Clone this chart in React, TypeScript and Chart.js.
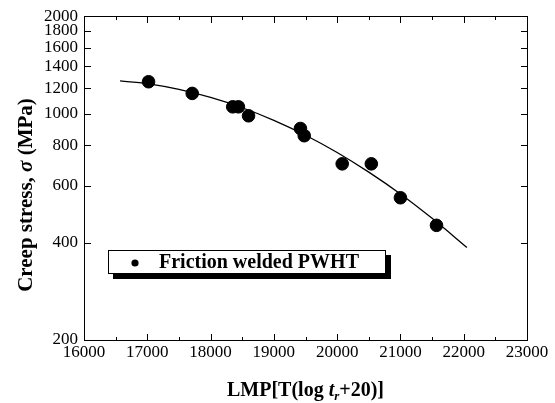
import React, { useEffect, useRef } from "react";
import { Chart, registerables } from "chart.js";

Chart.register(...registerables);

// Measured creep data (Friction welded PWHT)
const lmpValues = [17020, 17710, 18350, 18440, 18600, 19420, 19480, 20080, 20540, 21000, 21570];
const stressValues = [1255, 1155, 1050, 1050, 985, 900, 855, 700, 700, 550, 452];

// Fitted curve
const fitLmp = [16570, 17000, 17500, 18000, 18500, 19000, 19500, 20000, 20500, 21000, 21500, 22050];
const fitStress = [1262, 1238, 1188, 1122, 1043, 954, 858, 759, 660, 565, 475, 386];

const xTicks = [16000, 17000, 18000, 19000, 20000, 21000, 22000, 23000];
const xMinorTicks = [16500, 17500, 18500, 19500, 20500, 21500, 22500];
const yTicks = [200, 400, 600, 800, 1000, 1200, 1400, 1600, 1800, 2000];

const legendLabel = "Friction welded PWHT";
const serif = "'Liberation Serif', 'Times New Roman', serif";

const framePlugin = {
  id: "frame",
  afterDatasetsDraw(chart: any) {
    const ctx = chart.ctx;
    const area = chart.chartArea;
    const xs = chart.scales.x;
    const ys = chart.scales.y;
    const L = Math.round(area.left);
    const R = Math.round(area.right);
    const T = Math.round(area.top);
    const B = Math.round(area.bottom);
    ctx.save();
    ctx.fillStyle = "#000000";
    ctx.fillRect(L, T, R - L + 1, 1);
    ctx.fillRect(L, B, R - L + 1, 1);
    ctx.fillRect(L, T, 1, B - T + 1);
    ctx.fillRect(R, T, 1, B - T + 1);
    for (const v of xTicks) {
      const px = Math.round(xs.getPixelForValue(v));
      ctx.fillRect(px, B - 6, 1, 6);
      ctx.fillRect(px, T + 1, 1, 6);
    }
    for (const v of xMinorTicks) {
      const px = Math.round(xs.getPixelForValue(v));
      ctx.fillRect(px, B - 3, 1, 3);
      ctx.fillRect(px, T + 1, 1, 3);
    }
    for (const v of yTicks) {
      const py = Math.round(ys.getPixelForValue(v));
      ctx.fillRect(L + 1, py, 6, 1);
      ctx.fillRect(R - 6, py, 6, 1);
    }
    ctx.restore();
  },
};

const decorPlugin = {
  id: "decor",
  afterDraw(chart: any) {
    const ctx = chart.ctx;
    const area = chart.chartArea;
    ctx.save();
    // Legend box with shadow
    const bx = 108, by = 250, bw = 278, bh = 24;
    ctx.fillStyle = "#000";
    ctx.fillRect(bx + 5, by + 5, bw, bh);
    ctx.fillStyle = "#fff";
    ctx.fillRect(bx, by, bw, bh);
    ctx.fillStyle = "#000";
    ctx.fillRect(bx, by, bw, 1);
    ctx.fillRect(bx, by + bh - 1, bw, 1);
    ctx.fillRect(bx, by, 1, bh);
    ctx.fillRect(bx + bw - 1, by, 1, bh);
    ctx.beginPath();
    ctx.arc(135, by + 13, 3.6, 0, Math.PI * 2);
    ctx.fill();
    ctx.font = `bold 20px ${serif}`;
    ctx.textBaseline = "middle";
    ctx.textAlign = "left";
    ctx.fillText(legendLabel, 159, by + 13);

    const drawRuns = (runs: any[], cx: number, cy: number, rot: number, base: number) => {
      ctx.save();
      ctx.translate(cx, cy);
      ctx.rotate(rot);
      ctx.textBaseline = "alphabetic";
      ctx.textAlign = "left";
      let total = 0;
      runs.forEach((r) => { ctx.font = r.font; total += ctx.measureText(r.text).width; });
      let x = -total / 2;
      runs.forEach((r) => {
        ctx.font = r.font;
        ctx.fillText(r.text, x, base + (r.dy || 0));
        x += ctx.measureText(r.text).width;
      });
      ctx.restore();
    };
    const xc = (area.left + area.right) / 2;
    drawRuns([
      { text: "LMP[T(log ", font: `bold 20px ${serif}` },
      { text: "t", font: `italic bold 20px ${serif}` },
      { text: "r", font: `italic bold 13px ${serif}`, dy: 4 },
      { text: "+20)]", font: `bold 20px ${serif}` },
    ], xc, 389, 0, 7);
    drawRuns([
      { text: "Creep stress, ", font: `bold 21px ${serif}` },
      { text: "σ", font: `italic bold 21px ${serif}` },
      { text: " (MPa)", font: `bold 21px ${serif}` },
    ], 24, 195, -Math.PI / 2, 7.5);
    ctx.restore();
  },
};

export default function App() {
  const ref = useRef<HTMLCanvasElement | null>(null);
  useEffect(() => {
    document.body.style.margin = "0";
    const canvas = ref.current;
    if (!canvas) return;
    const chart = new Chart(canvas, {
      type: "scatter",
      data: {
        datasets: [
          {
            label: "fit",
            data: fitLmp.map((x, i) => ({ x, y: fitStress[i] })),
            showLine: true,
            borderColor: "#000",
            borderWidth: 1.3,
            pointRadius: 0,
            tension: 0.4,
            fill: false,
          },
          {
            label: legendLabel,
            data: lmpValues.map((x, i) => ({ x, y: stressValues[i] })),
            backgroundColor: "#000",
            borderColor: "#000",
            pointRadius: 6.3,
            pointHoverRadius: 6.3,
            showLine: false,
          },
        ],
      },
      options: {
        responsive: false,
        animation: false,
        layout: { padding: { left: 0, right: 28, top: 15, bottom: 0 } },
        plugins: { legend: { display: false }, tooltip: { enabled: false } },
        scales: {
          x: {
            type: "linear",
            min: 16000,
            max: 23000,
            grid: { display: false, drawTicks: false },
            border: { display: false },
            afterBuildTicks: (s: any) => { s.ticks = xTicks.map((v) => ({ value: v })); },
            afterFit: (s: any) => { s.height = 63; },
            ticks: {
              color: "#000",
              font: { family: serif, size: 17 },
              padding: 2,
              maxRotation: 0,
              autoSkip: false,
              callback: (v: any) => String(v),
            },
          },
          y: {
            type: "logarithmic",
            min: 200,
            max: 2000,
            grid: { display: false, drawTicks: false },
            border: { display: false },
            afterBuildTicks: (s: any) => { s.ticks = yTicks.map((v) => ({ value: v })); },
            afterFit: (s: any) => { s.width = 84; },
            ticks: {
              color: "#000",
              font: { family: serif, size: 17 },
              padding: 6,
              autoSkip: false,
              callback: (v: any) => String(v),
            },
          },
        },
      },
      plugins: [framePlugin, decorPlugin],
    } as any);
    return () => chart.destroy();
  }, []);
  return (
    <div style={{ position: "absolute", left: 0, top: 0 }}>
      <canvas ref={ref} width={555} height={403} style={{ display: "block", width: 555, height: 403 }} />
    </div>
  );
}
